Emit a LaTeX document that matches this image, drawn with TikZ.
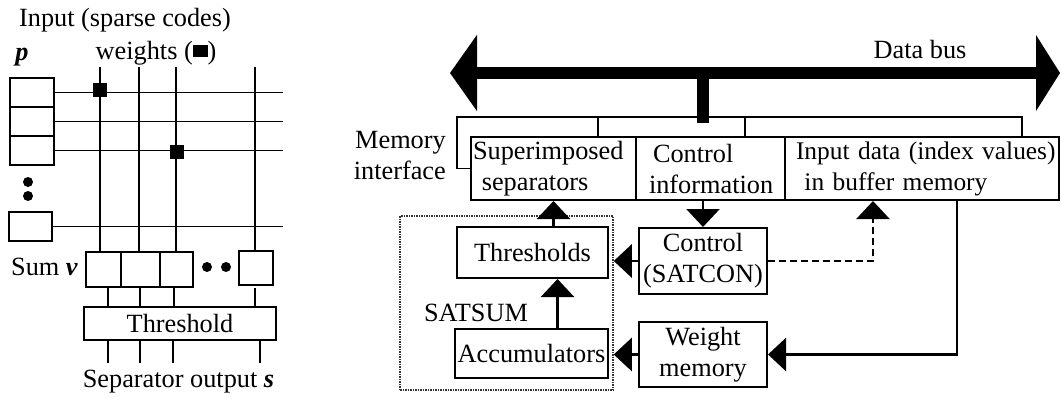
\documentclass[tikz,border=0pt]{standalone}
\usepackage{fontspec}
\setmainfont{Liberation Serif}
\usetikzlibrary{arrows.meta,positioning,calc}

\begin{document}
\begin{tikzpicture}[x=1pt,y=-1pt,font=\fontsize{26.3}{31}\selectfont,
  box/.style={draw,line width=2pt,inner sep=0pt,align=center},
  cell/.style={draw,line width=2pt,inner sep=0pt},
  mem/.style={draw,line width=2pt,inner ysep=0pt,minimum height=63pt,align=left},
  grid/.style={line width=1.6pt},
  wt/.style={fill,inner sep=0pt,minimum size=14pt},
  dot/.style={circle,fill,inner sep=0pt,minimum size=10pt},
  arr/.style={-{Triangle[length=18pt,width=33pt]},line width=2.5pt},
  bus/.style={{Triangle[length=27pt,width=75pt]}-{Triangle[length=24pt,width=75pt]},line width=12pt}]
\useasboundingbox (0,0) rectangle (1061,397);
\node[cell,minimum width=44pt,minimum height=29pt] (inp1) at (32,92.5) {};
\node[cell,minimum width=44pt,minimum height=29pt] (inp2) at (32,121.5) {};
\node[cell,minimum width=44pt,minimum height=29pt] (inp3) at (32,150.5) {};
\node[cell,minimum width=43pt,minimum height=29pt] (inpn) at (30.5,226.5) {};
\node[dot] (dv1) at (28,182) {}; \node[dot] (dv2) at (28,196) {};
\node[cell,minimum width=35pt,minimum height=35pt] (sum1) at (103.5,269.5) {};
\node[cell,minimum width=39pt,minimum height=35pt] (sum2) at (140.5,269.5) {};
\node[cell,minimum width=33pt,minimum height=35pt] (sum3) at (176.5,269.5) {};
\node[cell,minimum width=34pt,minimum height=34pt] (sumn) at (256,268) {};
\node[dot] (dh1) at (207,267) {}; \node[dot] (dh2) at (226,267) {};
\node[box,minimum width=192pt,minimum height=33pt] (thr) at (180,323.5) {Threshold};
\foreach \c in {inp1,inp2,inp3,inpn} \draw[grid] (\c.east) -- (\c.east -| 283,0);
\foreach \x/\c in {100/sum1,139/sum2,176/sum3,255/sumn} \draw[grid] (\x,67) -- (\x,0 |- \c.north);
\node[wt] (wt1) at (100,90) {}; \node[wt] (wt2) at (177,152) {};
\foreach \x in {108,140,174,255} \draw[grid] (\x,0 |- sum1.south) -- (\x,0 |- thr.north);
\foreach \x in {108,140,173,260} \draw[grid] (\x,0 |- thr.south) -- ++(0,22);
\node (lin) at (125,20) {Input (sparse codes)};
\node (lp) at (22,57) {\textbf{\textit{p}}};
\node (lwt) at (156,53) {weights (\rule[0.1em]{0.56em}{0.45em})};
\node (lsum) at (44.5,267) {Sum \textbf{\textit{v}}};
\node (lout) at (178.5,382) {Separator output \textbf{\textit{s}}};

\coordinate (busl) at (450,73); \coordinate (busr) at (1060,73); \coordinate (tap) at (703,73);
\draw[bus] (busl) -- (busr);
\draw[line width=12pt] (tap) -- ++(0,50);
\node (lbus) at (920,50) {Data bus};
\node[mem,inner xsep=2pt,text width=161pt] (sup) at (553.5,168.5) {\mbox{Superimposed}\\\mbox{\ separators}};
\node[mem,inner xsep=13pt,text width=123pt] (ctl) at (710.5,168.5) {\mbox{\hspace*{4pt}Control}\\\mbox{information}};
\node[mem,inner xsep=11pt,text width=252pt,font=\fontsize{25.4}{31}\selectfont] (inb) at (922,168.5) {\mbox{Input data (index values)}\\\mbox{\ in buffer memory}};
\coordinate (brl) at (457,117); \coordinate (brr) at (1022,117);
\draw[grid] (sup.west) -| (brl) -- (brr) -- (brr |- inb.north);
\foreach \x in {598,745} \draw[grid] (\x,117) -- (\x,0 |- sup.north);
\node[align=right,anchor=east,inner sep=0pt] (lmem) at (446,156) {Memory\\interface};

\node[draw,line width=1.5pt,black!80,dash pattern=on 1.5pt off 1pt,minimum width=213pt,minimum height=174pt] (satsum) at (506.5,303) {};
\node[box,minimum width=151pt,minimum height=51pt] (thrs) at (532.5,252.5) {Thresholds};
\node[box,minimum width=128pt,minimum height=66pt] (satcon) at (703,261) {Control\\(SATCON)};
\node[box,minimum width=153pt,minimum height=49pt] (acc) at (531.5,353.5) {Accumulators};
\node[box,minimum width=128pt,minimum height=65pt] (wmem) at (703,354.5) {Weight\\memory};
\node (lsat) at (476,313) {SATSUM};
\draw[arr] (satcon.north |- ctl.south) -- (satcon.north);
\draw[arr] (satcon.west) -- (satcon.west -| satsum.east);
\draw[arr] (sup.south |- thrs.north) -- (sup.south);
\draw[arr] ([xshift=26pt]acc.north) -- ([xshift=26pt]acc.north |- thrs.south);
\draw[arr] (wmem.west) -- (wmem.west -| satsum.east);
\draw[arr] ([xshift=35pt]inb.south) |- (wmem.east);
\draw[arr,dash pattern=on 7pt off 4pt] (satcon.east) -| ([xshift=-49pt]inb.south);
\end{tikzpicture}
\end{document}
